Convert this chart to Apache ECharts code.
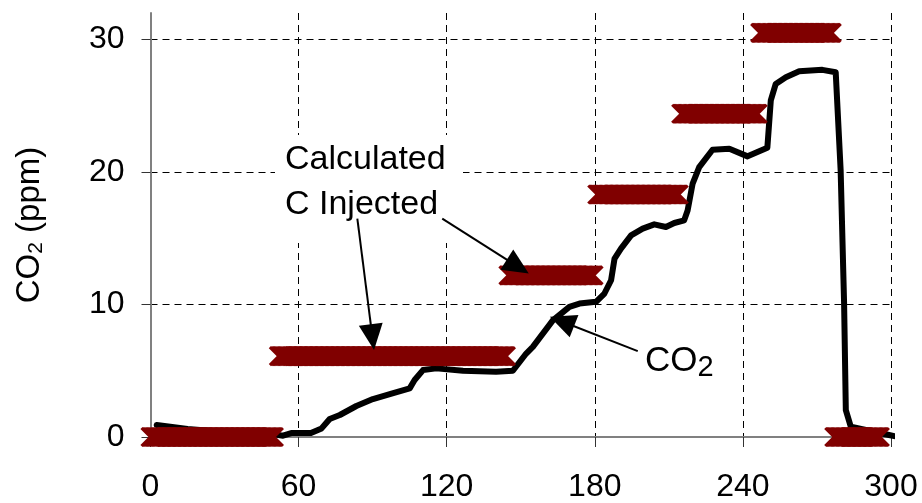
<!DOCTYPE html>
<html>
<head>
<meta charset="utf-8">
<script src="https://cdn.jsdelivr.net/npm/echarts@6/dist/echarts.min.js"></script>
<style>
  html, body { margin: 0; padding: 0; background: #fff; }
  #chart { width: 922px; height: 503px; }
</style>
</head>
<body>
<div id="chart"></div>
<script>
// measured CO2 (ppm) vs time
const co2Time = [2.5, 8, 15, 25, 35, 45, 50, 53.7, 57, 65, 69.3, 72.6, 76.7, 83.4, 90.1, 98, 105, 107, 110.4, 115.8, 126.6, 140, 146.8,
  152.2, 154.9, 163, 169.7, 173.8, 180.5, 183.9, 186.6, 188, 190.6, 194.7, 199.4, 204.1, 208.8, 212.2, 216.2, 217.6,
  219.6, 222.3, 227.7, 234.5, 241.9, 249.9, 251.3, 253.3, 257.4, 262.8, 272.2, 277.6, 279.6, 281, 281.7, 283.7, 289.8, 299.2, 302.5];
const co2Ppm = [0.9, 0.78, 0.6, 0.45, 0.35, 0.25, 0.2, 0.1, 0.3, 0.3, 0.65, 1.36, 1.66, 2.34, 2.86, 3.3, 3.67, 4.3, 5.05, 5.18, 5.0, 4.92, 5.0,
  6.3, 6.8, 8.8, 9.82, 10.07, 10.2, 10.83, 11.83, 13.47, 14.22, 15.22, 15.73, 16.05, 15.85, 16.15, 16.35, 17.1,
  19.1, 20.37, 21.68, 21.75, 21.18, 21.83, 25.4, 26.65, 27.15, 27.6, 27.71, 27.53, 20.12, 10.07, 2.03, 0.78, 0.53, 0.15, 0.02];

// calculated C injected: step levels
const injStart = [0, 52, 145, 181, 215, 247, 277];
const injEnd = [50, 144, 179.5, 214, 246, 276, 295.5];
const injLevel = [0, 6.1, 12.2, 18.3, 24.4, 30.5, 0];

const xTicks = [0, 60, 120, 180, 240, 300];
const yTicks = [0, 10, 20, 30];

const FONT = "'Liberation Sans', Arial, sans-serif";

const co2Data = co2Time.map((t, i) => [t, co2Ppm[i]]);
const injData = injStart.map((s, i) => [s, injEnd[i], injLevel[i]]);

const chart = echarts.init(document.getElementById('chart'));

const gridStyle = { color: '#000', width: 1, type: [7, 5] };

const option = {
  animation: false,
  backgroundColor: '#fff',
  grid: { left: 150.5, right: 31, top: 13, bottom: 66 },
  xAxis: {
    type: 'value',
    min: 0,
    max: 300,
    interval: 60,
    axisLine: { show: true, lineStyle: { color: '#808080', width: 2 } },
    axisTick: { show: true, length: 10, customValues: xTicks, lineStyle: { color: '#333', width: 1 } },
    axisLabel: { color: '#000', fontSize: 32, fontFamily: FONT, margin: 34, customValues: xTicks },
    splitLine: { show: true, lineStyle: gridStyle }
  },
  yAxis: {
    type: 'value',
    min: 0,
    max: 32,
    interval: 10,
    name: '{a|CO}{b|2}{a| (ppm)}',
    nameLocation: 'middle',
    nameGap: 104,
    nameRotate: 90,
    nameTextStyle: {
      color: '#000',
      rich: {
        a: { fontSize: 33, fontFamily: FONT, color: '#000' },
        b: { fontSize: 21, fontFamily: FONT, color: '#000', verticalAlign: 'bottom', padding: [12, 0, 0, 0] }
      }
    },
    axisLine: { show: true, lineStyle: { color: '#808080', width: 2 } },
    axisTick: { show: true, length: 9, customValues: yTicks, lineStyle: { color: '#333', width: 1 } },
    axisLabel: { color: '#000', fontSize: 32, fontFamily: FONT, margin: 26, customValues: yTicks },
    splitLine: { show: true, lineStyle: gridStyle }
  },
  graphic: [
    { type: 'rect', z: 1, shape: { x: 275, y: 135, width: 188, height: 108 }, style: { fill: '#fff' } },
    {
      type: 'text', z: 3, x: 285, y: 137,
      style: { text: 'Calculated\nC Injected', font: '34px ' + FONT, fill: '#000', lineHeight: 45 }
    },
    {
      type: 'text', z: 3, x: 645, y: 341,
      style: {
        text: '{a|CO}{b|2}',
        fill: '#000',
        rich: {
          a: { font: '35px ' + FONT, fill: '#000' },
          b: { font: '29px ' + FONT, fill: '#000', verticalAlign: 'bottom', padding: [12, 0, 0, 0] }
        }
      }
    }
  ],
  series: [
    {
      name: 'CO2',
      type: 'line',
      data: co2Data,
      showSymbol: false,
      clip: false,
      z: 2,
      lineStyle: { color: '#000', width: 6, join: 'round', cap: 'round' },
      markLine: {
        silent: true,
        symbol: ['none', 'triangle'],
        symbolSize: [24, 26],
        lineStyle: { color: '#000', width: 2, type: 'solid' },
        itemStyle: { color: '#000' },
        label: { show: false },
        emphasis: { disabled: true },
        animation: false,
        data: [
          [{ coord: [83.8, 16.48] }, { coord: [89.9, 7.53] }],
          [{ coord: [118.2, 16.48] }, { coord: [148.8, 12.86] }],
          [{ coord: [197.4, 6.48] }, { coord: [166.7, 8.72] }]
        ]
      }
    },
    {
      name: 'Calculated C Injected',
      type: 'custom',
      z: 3,
      encode: { x: [0, 1], y: 2 },
      data: injData,
      renderItem: function (params, api) {
        const t0 = api.value(0), t1 = api.value(1), lv = api.value(2);
        const h = 9;
        const children = [];
        for (let t = t0; t <= t1 + 1e-6; t += 0.5) {
          const p = api.coord([t, lv]);
          children.push({ type: 'line', shape: { x1: p[0] - h, y1: p[1] - h, x2: p[0] + h, y2: p[1] + h },
            style: { stroke: '#800000', lineWidth: 3 } });
          children.push({ type: 'line', shape: { x1: p[0] - h, y1: p[1] + h, x2: p[0] + h, y2: p[1] - h },
            style: { stroke: '#800000', lineWidth: 3 } });
        }
        return { type: 'group', children: children };
      }
    }
  ]
};

chart.setOption(option);
</script>
</body>
</html>
